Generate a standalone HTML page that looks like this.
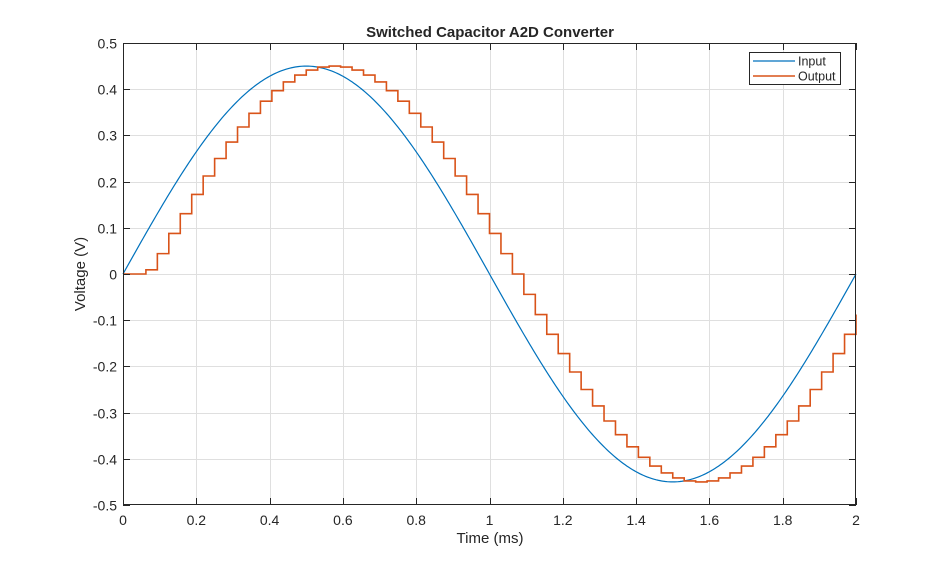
<!DOCTYPE html>
<html><head><meta charset="utf-8"><style>
body{margin:0;background:#fff;}
svg{display:block;font-family:"Liberation Sans",sans-serif;}
</style></head><body>
<svg id="s" width="946" height="569" xmlns="http://www.w3.org/2000/svg">
<rect width="946" height="569" fill="#fff"/>
<g id="grid" stroke="#dfdfdf" stroke-width="1"></g>
<path id="inp" fill="none" stroke="#0072bd" stroke-width="1.2"/>
<path id="out" fill="none" stroke="#d95319" stroke-width="1.6"/>
<rect x="123.5" y="43.5" width="732" height="461" fill="none" stroke="#262626" stroke-width="1"/>
<g id="ticks" stroke="#262626" stroke-width="1"></g>
<g id="lab" font-size="14" fill="#262626"></g>
<text x="490" y="37" text-anchor="middle" font-size="15" font-weight="bold" fill="#262626">Switched Capacitor A2D Converter</text>
<text x="490" y="543" text-anchor="middle" font-size="15" fill="#262626">Time (ms)</text>
<text transform="translate(85,274) rotate(-90)" text-anchor="middle" font-size="15" fill="#262626">Voltage (V)</text>
<rect x="749.5" y="52.5" width="91" height="32" fill="#fff" stroke="#262626"/>
<line x1="753" y1="61" x2="795" y2="61" stroke="#0072bd" stroke-width="1.2"/>
<line x1="753" y1="76" x2="795" y2="76" stroke="#d95319" stroke-width="1.6"/>
<text x="798" y="65.5" font-size="12.5" fill="#262626">Input</text>
<text x="798" y="80.5" font-size="12.5" fill="#262626">Output</text>
</svg>
<script>
var X=function(t){return 123+t*366.5},Y=function(v){return 274-v*462};
var g=document.getElementById('grid'),tk=document.getElementById('ticks'),lb=document.getElementById('lab');
var ns='http://www.w3.org/2000/svg';
function el(p,n,a,txt){var e=document.createElementNS(ns,n);for(var k in a)e.setAttribute(k,a[k]);if(txt!=null)e.textContent=txt;p.appendChild(e);}
for(var i=0;i<=10;i++){var t=i*0.2,x=Math.round(X(t))+0.5;
 if(i>0&&i<10)el(g,'line',{x1:x,y1:43,x2:x,y2:505});
 el(tk,'line',{x1:x,y1:505,x2:x,y2:498});el(tk,'line',{x1:x,y1:43,x2:x,y2:50});
 el(lb,'text',{x:X(t),y:525,'text-anchor':'middle'},(Math.round(t*10)/10).toString());}
for(var i=0;i<=10;i++){var v=0.5-i*0.1,y=Math.round(Y(v))+0.5;
 if(i>0&&i<10)el(g,'line',{x1:123,y1:y,x2:856,y2:y});
 el(tk,'line',{x1:123,y1:y,x2:130,y2:y});el(tk,'line',{x1:856,y1:y,x2:849,y2:y});
 var s=(Math.round(v*10)/10).toString();if(Math.abs(v)<1e-9)s='0';
 el(lb,'text',{x:117,y:y+5,'text-anchor':'end'},s);}
var d='';for(var i=0;i<=400;i++){var t=i*2/400;d+=(i?'L':'M')+X(t).toFixed(2)+' '+Y(0.45*Math.sin(Math.PI*t)).toFixed(2);}
document.getElementById('inp').setAttribute('d',d);
var T=0.03125,o='M'+X(0)+' '+Y(0);
for(var k=2;k<=64;k++){var v=k==2?0.009:0.45*Math.sin(Math.PI*(k-2)*T);
 o+='H'+X(k*T).toFixed(2)+'V'+Y(v).toFixed(2);}
document.getElementById('out').setAttribute('d',o);
</script>
</body></html>
